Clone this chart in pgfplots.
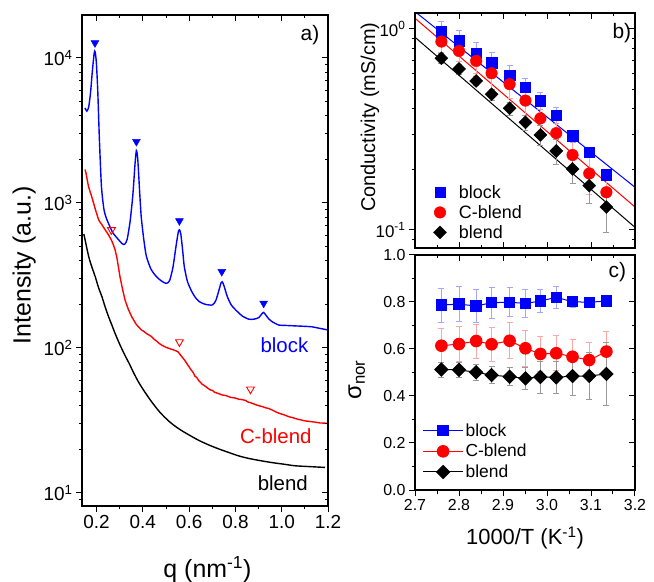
\documentclass[border=0pt]{standalone}
\usepackage{fontspec}
\setmainfont{Liberation Sans}
\usepackage{pgfplots}
\pgfplotsset{compat=1.18}

\newcommand{\fs}[1]{\fontsize{#1}{#1}\selectfont}

\pgfplotsset{
  mybase/.style={scale only axis, axis line style={line width=1.1bp},
    tick style={line width=1bp, black}, major tick length=6bp, minor tick length=3.5bp,
    /pgf/number format/assume math mode=true},
  pa/.style={mybase, at={(82bp,76bp)}, anchor=south west, width=246bp, height=491bp,
    xmin=0.137, xmax=1.2, ymin=8.13, ymax=19800,
    xtick={0.2,0.4,0.6,0.8,1.0,1.2}, minor x tick num=1,
    ytick={10,100,1000,10000},
    minor ytick={9,20,30,40,50,60,70,80,90,200,300,400,500,600,700,800,900,2000,3000,4000,5000,6000,7000,8000,9000}},
  pb/.style={mybase, at={(415bp,334bp)}, anchor=south west, width=220bp, height=235bp,
    xmin=2.7, xmax=3.2, ymin=0.0813, ymax=1.2,
    xtick={2.7,2.8,2.9,3.0,3.1,3.2}, minor x tick num=1,
    ytick={0.1,1}, minor ytick={0.09,0.2,0.3,0.4,0.5,0.6,0.7,0.8,0.9}},
  pc/.style={mybase, at={(415bp,92bp)}, anchor=south west, width=220bp, height=235bp,
    xmin=2.7, xmax=3.2, ymin=0, ymax=1,
    xtick={2.7,2.8,2.9,3.0,3.1,3.2}, minor x tick num=1,
    ytick={0,0.2,0.4,0.6,0.8,1.0}, minor y tick num=1},
  over/.style={tick align=inside, xticklabels={}, yticklabels={}},
  ebar/.style={error bars/.cd, y dir=both, y explicit,
    error bar style={#1, line width=0.8bp},
    error mark options={#1, rotate=90, mark size=3bp, line width=0.8bp}},
  dia/.style={mark=square*, mark size=4.6bp, mark options={rotate=45}},
  markleg/.style={legend image code/.code={\path[draw=none, fill=none] (0bp,-4bp) rectangle (30bp,4bp); \draw plot coordinates {(13bp,0bp)};}},
}

\begin{document}
\begin{tikzpicture}
\path[use as bounding box] (0,0) rectangle (654bp,582bp);

% ---- a) ----
\begin{axis}[ymode=log, pa, tick align=outside, xtick pos=left, ytick pos=left,
  yticklabels={10\textsuperscript{1},10\textsuperscript{2},10\textsuperscript{3},10\textsuperscript{4}},
  xticklabel style={/pgf/number format/.cd, fixed, fixed zerofill, precision=1},
  tick label style={font=\fs{19}},
  xlabel={q (nm\textsuperscript{-1})}, ylabel={Intensity (a.u.)},
  label style={font=\fs{25}},
  xlabel style={at={(axis description cs:0.51,-0.13)}, anchor=center},
  ylabel style={at={(axis description cs:-0.235,0.49)}, anchor=center}]
\addplot[blue, line width=1.4bp, smooth, tension=0.4] coordinates {
(0.150,4520) (0.158,4300) (0.166,4600) (0.174,5800) (0.182,8200) (0.190,10900)
(0.194,11000) (0.199,9300) (0.205,6000) (0.212,2800) (0.221,1300) (0.232,900)
(0.243,780) (0.257,690) (0.271,620) (0.290,570) (0.310,525) (0.321,519)
(0.332,560) (0.345,750) (0.357,1150) (0.366,1850) (0.372,2300) (0.378,2000)
(0.386,1200) (0.393,800) (0.404,560) (0.415,430) (0.435,350) (0.458,311)
(0.480,290) (0.500,279) (0.515,290) (0.530,360) (0.543,500) (0.553,630)
(0.558,652) (0.564,610) (0.572,470) (0.579,364) (0.592,290) (0.608,251)
(0.625,225) (0.643,209) (0.670,200) (0.700,198) (0.715,212) (0.729,251)
(0.738,282) (0.743,286) (0.750,270) (0.765,226) (0.782,198) (0.801,183)
(0.830,166) (0.858,158) (0.880,158) (0.901,162) (0.914,172) (0.922,176)
(0.932,168) (0.945,158) (0.958,152) (0.987,144) (1.020,143) (1.058,142)
(1.100,141) (1.130,140) (1.160,137) (1.200,133)};
\addplot[red, line width=1.4bp] coordinates {
(0.150,1700) (0.153,1645) (0.165,1300) (0.179,1105) (0.195,900) (0.209,764)
(0.230,680) (0.252,601) (0.264,555) (0.273,513) (0.280,475) (0.287,426)
(0.294,365) (0.301,311) (0.312,255) (0.323,214) (0.337,185) (0.352,164)
(0.372,145) (0.394,133) (0.405,130) (0.415,126) (0.426,123) (0.437,120)
(0.448,115) (0.458,112) (0.469,108) (0.480,105) (0.490,103) (0.500,101)
(0.512,99.5) (0.523,98) (0.531,97.2) (0.540,96) (0.552,94) (0.566,88)
(0.580,82.6) (0.595,76) (0.609,70.5) (0.618,67.5) (0.625,64) (0.633,62.5)
(0.640,60) (0.655,56.5) (0.672,54.1) (0.690,51.5) (0.700,51) (0.710,49.5)
(0.725,48.6) (0.743,47.4) (0.760,46.9) (0.780,45.6) (0.798,45.2) (0.815,44.3)
(0.830,44) (0.845,43.4) (0.852,42.5) (0.872,41.6) (0.886,40.7)
(0.900,40) (0.915,39.5) (0.930,38.7) (0.944,38.2) (0.958,37.4) (0.975,36.2)
(0.990,35.4) (1.010,34.6) (1.030,33.6) (1.047,33.1) (1.065,32.4) (1.083,31.9)
(1.101,31.4) (1.122,31.1) (1.145,30.8) (1.165,30.4) (1.187,30.3) (1.200,30.1)};
\addplot[black, line width=1.4bp, smooth] coordinates {
(0.145,610) (0.150,560) (0.166,427) (0.180,360) (0.194,311) (0.208,262)
(0.223,226) (0.237,192) (0.252,164) (0.266,144) (0.280,126) (0.300,106)
(0.321,90) (0.343,77) (0.359,68) (0.386,56.5) (0.429,44.5) (0.472,36.3) (0.515,31.0)
(0.557,27.6) (0.600,25.1) (0.643,23.0) (0.686,21.4) (0.729,20.1) (0.772,19.0)
(0.815,18.0) (0.858,17.3) (0.908,16.7) (0.958,16.2) (1.008,15.8) (1.058,15.4)
(1.120,15.2) (1.187,15.0)};
\addplot[only marks, blue, mark=triangle*, mark size=4.5bp, mark options={rotate=180}]
  coordinates {(0.193,12700) (0.372,2650) (0.558,752) (0.741,336) (0.922,203)};
\addplot[only marks, red, mark=triangle, mark size=4.5bp, mark options={rotate=180, line width=0.9bp}]
  coordinates {(0.264,652) (0.558,110) (0.865,51.9)};
\node[blue, anchor=east, font=\fs{20.5}] at (axis cs:1.13,105) {block};
\node[red, anchor=east, font=\fs{20.5}] at (axis cs:1.144,24.5) {C-blend};
\node[black, anchor=east, font=\fs{20.5}] at (axis cs:1.128,11.7) {blend};
\node[font=\fs{21}] at (rel axis cs:0.927,0.959) {a)};
\end{axis}
\begin{axis}[ymode=log, pa, over, xtick pos=right, ytick pos=right]
\addplot[draw=none, forget plot] coordinates {(0.5,100)};
\end{axis}

% ---- b) ----
\begin{axis}[ymode=log, pb, tick align=outside, ytick pos=left, xtick=\empty,
  yticklabels={10\textsuperscript{-1},10\textsuperscript{0}},
  tick label style={font=\fs{17}},
  ylabel={Conductivity (mS/cm)}, label style={font=\fs{20}},
  ylabel style={at={(axis description cs:-0.205,0.557)}, anchor=center},
  legend style={draw=none, fill=none, at={(0.04,0.285)}, anchor=north west,
    font=\fs{18}, row sep=1.5bp}, legend cell align=left]
\addplot[blue, line width=1bp, forget plot] coordinates {(2.7,1.219) (3.2,0.163)};
\addplot[red, line width=1bp, forget plot] coordinates {(2.7,1.13) (3.2,0.130)};
\addplot[black, line width=1bp, forget plot] coordinates {(2.7,0.909) (3.2,0.103)};
\addplot[only marks, blue, mark=square*, mark size=5.2bp, markleg, ebar=blue!35] coordinates {
(2.760,0.970) +- (0,0.12) (2.800,0.875) +- (0,0.11) (2.839,0.757) +- (0,0.10)
(2.874,0.680) +- (0,0.08) (2.915,0.590) +- (0,0.07) (2.951,0.513) +- (0,0.056)
(2.985,0.440) +- (0,0.042) (3.021,0.373) +- (0,0.033) (3.058,0.294) +- (0,0.02)
(3.096,0.243) +- (0,0.012) (3.135,0.188) +- (0,0.008)};
\addplot[only marks, red, mark=*, mark size=5.8bp, markleg, ebar=red!35] coordinates {
(2.760,0.865) +- (0,0.10) (2.800,0.777) +- (0,0.09) (2.839,0.693) +- (0,0.09)
(2.874,0.602) +- (0,0.10) (2.915,0.531) +- (0,0.08) (2.951,0.440) +- (0,0.07)
(2.985,0.359) +- (0,0.06) (3.021,0.303) +- (0,0.05) (3.058,0.236) +- (0,0.04)
(3.096,0.191) +- (0,0.04) (3.135,0.154) +- (0,0.028)};
\addplot[only marks, black, dia, markleg, ebar=black!40] coordinates {
(2.760,0.715) +- (0,0.04) (2.800,0.632) +- (0,0.035) (2.839,0.551) +- (0,0.03)
(2.874,0.473) +- (0,0.03) (2.915,0.403) +- (0,0.03) (2.951,0.343) +- (0,0.03)
(2.985,0.297) +- (0,0.035) (3.021,0.247) +- (0,0.035) (3.058,0.201) +- (0,0.03)
(3.096,0.166) +- (0,0.03) (3.135,0.130) +- (0,0.033)};
\legend{block, C-blend, blend}
\node[font=\fs{21}] at (rel axis cs:0.94,0.914) {b)};
\end{axis}
\begin{axis}[ymode=log, pb, over, xtick pos=both, ytick pos=right]
\addplot[draw=none, forget plot] coordinates {(3,0.5)};
\end{axis}

% ---- c) ----
\begin{axis}[pc, tick align=outside, xtick pos=left, ytick pos=left,
  xticklabel style={/pgf/number format/.cd, fixed, fixed zerofill, precision=1},
  yticklabel style={/pgf/number format/.cd, fixed, fixed zerofill, precision=1},
  tick label style={font=\fs{16}},
  xlabel={1000/T (K\textsuperscript{-1})}, ylabel={σ\textsubscript{nor}},
  xlabel style={font=\fs{22}, at={(axis description cs:0.5,-0.204)}, anchor=center},
  ylabel style={font=\fs{24}, at={(axis description cs:-0.265,0.468)}, anchor=center},
  legend style={draw=none, fill=none, at={(0.02,0.30)}, anchor=north west,
    font=\fs{17.5}, row sep=2.5bp},
  legend cell align=left,
  legend image code/.code={\draw[mark repeat=2, mark phase=2] plot coordinates {(0bp,0bp) (20bp,0bp) (40bp,0bp)};}]
\addplot[blue, line width=1bp, mark=square*, mark size=5.2bp, ebar=blue!35] coordinates {
(2.760,0.787) +- (0,0.072) (2.800,0.791) +- (0,0.075) (2.839,0.783) +- (0,0.070)
(2.874,0.797) +- (0,0.065) (2.915,0.799) +- (0,0.062) (2.951,0.794) +- (0,0.058)
(2.985,0.804) +- (0,0.048) (3.021,0.820) +- (0,0.047) (3.058,0.801) +- (0,0.022)
(3.096,0.799) +- (0,0.010) (3.135,0.804) +- (0,0.008)};
\addplot[red, line width=1bp, mark=*, mark size=5.8bp, ebar=red!35] coordinates {
(2.760,0.614) +- (0,0.072) (2.800,0.621) +- (0,0.075) (2.839,0.634) +- (0,0.072)
(2.874,0.620) +- (0,0.073) (2.915,0.635) +- (0,0.077) (2.951,0.603) +- (0,0.075)
(2.985,0.579) +- (0,0.073) (3.021,0.582) +- (0,0.075) (3.058,0.567) +- (0,0.075)
(3.096,0.553) +- (0,0.077) (3.135,0.589) +- (0,0.085)};
\addplot[black, line width=1bp, dia, ebar=black!40] coordinates {
(2.760,0.513) +- (0,0.032) (2.800,0.511) +- (0,0.030) (2.839,0.501) +- (0,0.033)
(2.874,0.489) +- (0,0.035) (2.915,0.482) +- (0,0.038) (2.951,0.475) +- (0,0.045)
(2.985,0.481) +- (0,0.068) (3.021,0.479) +- (0,0.070) (3.058,0.485) +- (0,0.083)
(3.096,0.485) +- (0,0.100) (3.135,0.494) +- (0,0.135)};
\legend{block, C-blend, blend}
\node[font=\fs{21}] at (rel axis cs:0.92,0.929) {c)};
\end{axis}
\begin{axis}[pc, over, xtick pos=right, ytick pos=right]
\addplot[draw=none, forget plot] coordinates {(3,0.5)};
\end{axis}
\end{tikzpicture}
\end{document}
